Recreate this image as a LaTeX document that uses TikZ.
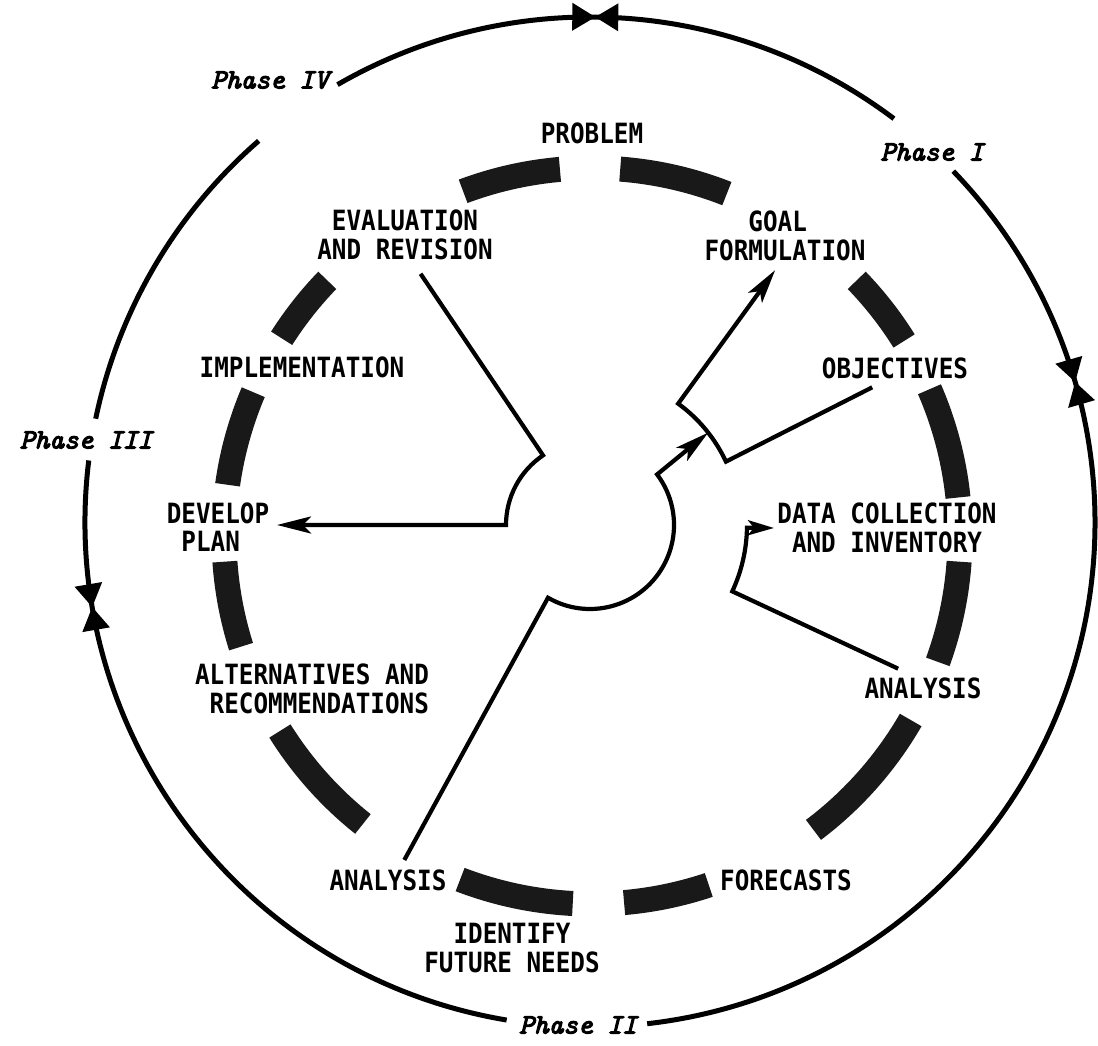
\documentclass[tikz,border=0pt]{standalone}
\usepackage{fontspec}
\newfontfamily\lblfont[FakeStretch=0.87]{DejaVu Sans Mono}
\newfontfamily\phasefont[Extension=.otf, UprightFont=*-italic, FakeBold=4]{lmmono10}
\usetikzlibrary{calc,arrows.meta}
\begin{document}
\begin{tikzpicture}[x=1pt,y=1pt,
  lbl/.style={font={\lblfont\bfseries\fontsize{27.9}{28.5}\selectfont}, inner sep=0pt, align=left},
  phase/.style={font={\phasefont\fontsize{28}{28}\selectfont}, inner sep=0pt},
  ringline/.style={line width=5pt},
  conn/.style={line width=4.2pt, line join=miter},
  tip/.style={-{Stealth[length=34pt,width=17pt,inset=8pt]}},
  smalltip/.style={-{Stealth[length=26pt,width=15pt,inset=6pt]}},
  barfill/.style={fill=black!90}]
\useasboundingbox (0,0) rectangle (1098,1046);
\coordinate (oc) at (590,524);
\coordinate (rc) at (592,510);
\coordinate (hub) at (590,521);

% outer circle with gaps for phase labels
\draw[ringline] ($(oc)+(53:505)$) arc[start angle=53,end angle=120,radius=505];
\draw[ringline] ($(oc)+(131:505)$) arc[start angle=131,end angle=168.2,radius=505];
\draw[ringline] ($(oc)+(173:505)$) arc[start angle=173,end angle=260.5,radius=505];
\draw[ringline] ($(oc)+(276.5:505)$) arc[start angle=276.5,end angle=404,radius=505];

% bowtie markers
\foreach \a in {89.4,16.1,189.7}{
  \fill[shift={(oc)},rotate=\a] (505,0) -- (491,23) -- (519,23) -- cycle;
  \fill[shift={(oc)},rotate=\a] (505,0) -- (491,-23) -- (519,-23) -- cycle;
}

% phase labels
\node[phase] (ph4) at (270,966) {Phase IV};
\node[phase] (ph1) at (932,894) {Phase I};
\node[phase] (ph3) at (86,606) {Phase III};
\node[phase] (ph2) at (578,21) {Phase II};

% shaded ring segments
\foreach \s/\e in {95/110.5, 68.5/85.6, 32/44, 6/23.5, -20/-4, -53/-30, -85/-71.5, -111/-93, -148/-128.5, 184/197.5, 157/172, 136/147.5}
  \fill[barfill] ($(rc)+(\s:355.5)$) arc[start angle=\s,end angle=\e,radius=355.5]
     -- ($(rc)+(\e:380.5)$) arc[start angle=\e,end angle=\s,radius=380.5] -- cycle;

% labels
\node[lbl] (problem) at (592,913) {PROBLEM};
\node[lbl] (evalrev) at (405,811) {\hphantom{A}EVALUATION\\AND REVISION};
\node[lbl] (goal) at (785,810) {\hphantom{FOR}GOAL\\FORMULATION};
\node[lbl] (objectives) at (895,678) {OBJECTIVES};
\node[lbl] (datacoll) at (887,518) {DATA COLLECTION\\\hphantom{D}AND INVENTORY};
\node[lbl] (analysisR) at (923,358) {ANALYSIS};
\node[lbl] (forecasts) at (786,166) {FORECASTS};
\node[lbl] (identify) at (512,98) {\hphantom{FU}IDENTIFY\\FUTURE NEEDS};
\node[lbl] (analysisL) at (388,166) {ANALYSIS};
\node[lbl] (alternatives) at (312,357) {ALTERNATIVES AND\\\hphantom{A}RECOMMENDATIONS};
\node[lbl] (develop) at (218,519) {DEVELOP\\\hphantom{D}PLAN};
\node[lbl] (implementation) at (302,679) {IMPLEMENTATION};

% connector end points
\coordinate (evalfoot) at ($(hub)+(124:303)$);
\coordinate (hubA) at ($(hub)+(124:84)$);
\coordinate (devtip) at ($(hub)+(180:313)$);
\coordinate (anaLfoot) at ($(hub)+(241:383)$);
\coordinate (hubB) at ($(hub)+(240:84)$);
\coordinate (midtip) at ($(hub)+(38:150)$);
\coordinate (objfoot) at ($(hub)+(26:314)$);
\coordinate (objknee) at ($(hub)+(25:150)$);
\coordinate (goaltip) at ($(hub)+(54:315)$);
\coordinate (anaRfoot) at ($(hub)+(-25:340)$);
\coordinate (anaRknee) at ($(hub)+(-25:157)$);
\coordinate (datatip) at (774,518);

% connectors
\draw[conn,tip] (evalfoot) -- (hubA) arc[start angle=124,end angle=180,radius=84] -- (devtip);
\draw[conn,tip] (anaLfoot) -- (hubB) arc[start angle=240,end angle=397,radius=84] -- (midtip);
\draw[conn,tip] (objfoot) -- (objknee) arc[start angle=25,end angle=54,radius=150] -- (goaltip);
\draw[conn,smalltip] (anaRfoot) -- (anaRknee) arc[start angle=-25,end angle=-1,radius=157] -- (datatip);
\end{tikzpicture}
\end{document}
